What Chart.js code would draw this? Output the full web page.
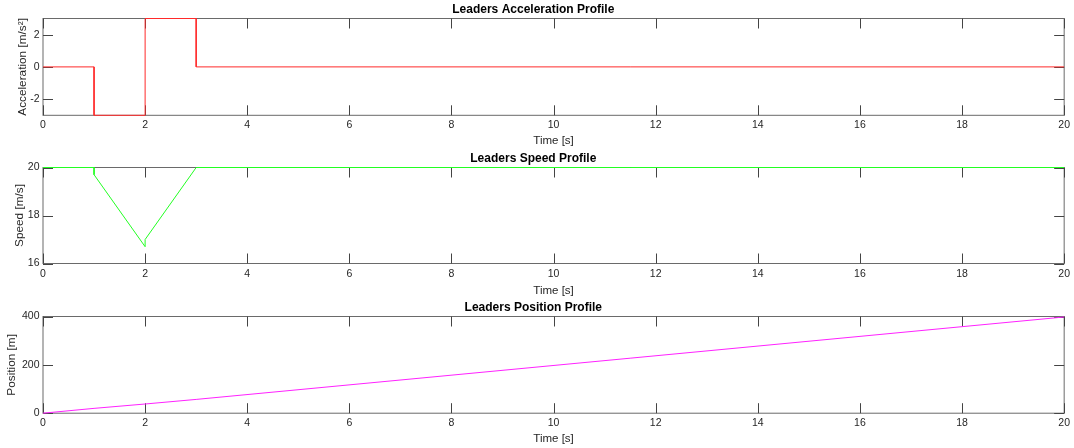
<!DOCTYPE html>
<html>
<head>
<meta charset="utf-8">
<title>Leaders Profiles</title>
<script src="https://cdn.jsdelivr.net/npm/chart.js@4/dist/chart.umd.min.js"></script>
<style>
  html, body { margin: 0; padding: 0; background: #ffffff; }
  #fig { position: relative; width: 1074px; height: 448px; overflow: hidden; }
  .panel { position: absolute; left: 0; width: 1074px; height: 150px; }
</style>
</head>
<body>
<div id="fig">
  <div class="panel" style="top:0px"><canvas id="accChart"></canvas></div>
  <div class="panel" style="top:149px"><canvas id="spdChart"></canvas></div>
  <div class="panel" style="top:298px"><canvas id="posChart"></canvas></div>
</div>
<script>
// Time axis shared by all three subplots
const timeTicks = [0, 2, 4, 6, 8, 10, 12, 14, 16, 18, 20];

// Leader acceleration [m/s^2]
const accTime   = [0, 1, 1, 2, 2, 3, 3, 20];
const accValues = [0, 0, -3, -3, 3, 3, 0, 0];
const accTicks  = [-2, 0, 2];

// Leader speed [m/s]
const spdTime   = [0, 1, 1, 2, 2, 3, 20];
const spdValues = [20, 20, 19.7, 16.7, 17.0, 20, 20];
const spdTicks  = [16, 18, 20];

// Leader position [m]
const posTime   = [0, 1, 2, 3, 20];
const posValues = [0, 20, 38, 57, 398];
const posTicks  = [0, 200, 400];

const FONT = '"Liberation Sans", Arial, Helvetica, sans-serif';
const AXIS_COLOR = '#262626';
const TICK_LEN = 10;

// MATLAB-like axes box with inward tick marks on all four sides,
// drawn underneath the data line so traces on the limits stay visible
const boxTicks = {
  id: 'boxTicks',
  beforeDatasetsDraw(chart) {
    const { ctx, chartArea: a, scales: { x, y } } = chart;
    ctx.save();
    ctx.lineWidth = 1;
    ctx.strokeStyle = '#6a6a6a';
    ctx.strokeRect(a.left, a.top, a.right - a.left, a.bottom - a.top);
    ctx.strokeStyle = '#444444';
    ctx.beginPath();
    x.ticks.forEach(t => {
      const px = Math.round(x.getPixelForValue(t.value)) + 0.5;
      ctx.moveTo(px, a.bottom); ctx.lineTo(px, a.bottom - TICK_LEN);
      ctx.moveTo(px, a.top);    ctx.lineTo(px, a.top + TICK_LEN);
    });
    y.ticks.forEach(t => {
      const py = Math.round(y.getPixelForValue(t.value)) + 0.5;
      ctx.moveTo(a.left, py);  ctx.lineTo(a.left + TICK_LEN, py);
      ctx.moveTo(a.right, py); ctx.lineTo(a.right - TICK_LEN, py);
    });
    ctx.stroke();
    ctx.restore();
  }
};

function makePanel(id, cfg) {
  const points = cfg.time.map((t, i) => ({ x: t, y: cfg.values[i] }));
  return new Chart(document.getElementById(id), {
    type: 'line',
    data: {
      datasets: [{
        data: points,
        borderColor: cfg.color,
        borderWidth: 1,
        pointRadius: 0,
        tension: 0,
        fill: false,
        clip: 2
      }]
    },
    options: {
      responsive: true,
      maintainAspectRatio: false,
      animation: false,
      events: [],
      layout: { padding: { left: 0, right: 7.4, top: 0, bottom: 0 } },
      plugins: {
        legend: { display: false },
        tooltip: { enabled: false },
        title: {
          display: true,
          text: cfg.title,
          color: '#000000',
          font: { family: FONT, size: 12, weight: 'bold', lineHeight: 1.2 },
          padding: { top: 2.6, bottom: 1.5 }
        }
      },
      scales: {
        x: {
          type: 'linear',
          min: 0,
          max: 20,
          grid: { display: false, drawTicks: false },
          border: { display: false },
          afterBuildTicks: s => { s.ticks = timeTicks.map(v => ({ value: v })); },
          afterFit: s => { s.height = cfg.xHeight; },
          ticks: {
            color: AXIS_COLOR,
            padding: 4,
            maxRotation: 0,
            autoSkip: false,
            font: { family: FONT, size: 10.5, lineHeight: 1.2 },
            callback: v => String(v)
          },
          title: {
            display: true,
            text: 'Time [s]',
            color: AXIS_COLOR,
            font: { family: FONT, size: 11.5, lineHeight: 1.2 },
            padding: { top: 0, bottom: cfg.xTitlePad }
          }
        },
        y: {
          type: 'linear',
          min: cfg.yMin,
          max: cfg.yMax,
          grid: { display: false, drawTicks: false },
          border: { display: false },
          afterBuildTicks: s => { s.ticks = cfg.yTicks.map(v => ({ value: v })); },
          afterFit: s => { s.width = 43; },
          ticks: {
            color: AXIS_COLOR,
            padding: 3.5,
            autoSkip: false,
            font: { family: FONT, size: 10.5, lineHeight: 1.2 },
            callback: v => String(v)
          },
          title: {
            display: true,
            text: cfg.yLabel,
            color: AXIS_COLOR,
            font: { family: FONT, size: 11.8, lineHeight: 1.2 },
            padding: { top: cfg.yTitlePad, bottom: 0 }
          }
        }
      }
    },
    plugins: [boxTicks]
  });
}

makePanel('accChart', {
  title: 'Leaders Acceleration Profile',
  yLabel: 'Acceleration [m/s²]',
  time: accTime, values: accValues, yTicks: accTicks,
  yMin: -3, yMax: 3, color: '#ff2a2a',
  xHeight: 34.7, xTitlePad: 2.1, yTitlePad: 15.4
});

makePanel('spdChart', {
  title: 'Leaders Speed Profile',
  yLabel: 'Speed [m/s]',
  time: spdTime, values: spdValues, yTicks: spdTicks,
  yMin: 16, yMax: 20, color: '#22ff22',
  xHeight: 35.5, xTitlePad: 1.1, yTitlePad: 12.4
});

makePanel('posChart', {
  title: 'Leaders Position Profile',
  yLabel: 'Position [m]',
  time: posTime, values: posValues, yTicks: posTicks,
  yMin: 0, yMax: 400, color: '#ff22ff',
  xHeight: 34.8, xTitlePad: 2.1, yTitlePad: 5.0
});
</script>
</body>
</html>
